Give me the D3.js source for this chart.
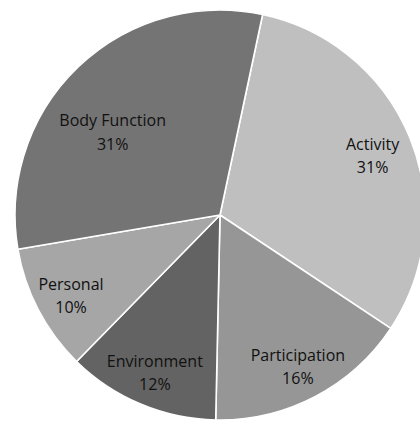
<!DOCTYPE html>
<html>
<head>
<meta charset="utf-8">
<script src="https://cdn.jsdelivr.net/npm/d3@7"></script>
<style>
    body { margin: 0; background: #fff; }
    svg { display: block; }
</style>
</head>
<body>
<div id="chart"></div>
<script>
// Data (percent share per ICF domain)
const categories = ["Activity", "Participation", "Environment", "Personal", "Body Function"];
const shares = [31, 16, 12, 10, 31];
const sliceColors = ["#bfbfbf", "#969696", "#636363", "#a6a6a6", "#747474"];

const width = 420, height = 426;
const cx = 220, cy = 215, radius = 205;

const svg = d3.select("#chart")
    .append("svg")
    .attr("width", width)
    .attr("height", height);

const g = svg.append("g")
    .attr("transform", `translate(${cx}, ${cy})`);

const data = categories.map((c, i) => ({ name: c, value: shares[i] }));

// Excel draws the first slice starting a little past 12 o'clock
const pie = d3.pie()
    .value(d => d.value)
    .sort(null)
    .startAngle(12 * Math.PI / 180)
    .endAngle(12 * Math.PI / 180 + 2 * Math.PI);

const arc = d3.arc().innerRadius(0).outerRadius(radius);
const labelArc = d3.arc().innerRadius(radius * 0.82).outerRadius(radius * 0.82);

// small nudges so labels sit where Excel's best fit put them
const labelNudge = { "Body Function": [9, 36], "Activity": [-3, 2] };

const color = d3.scaleOrdinal().domain(categories).range(sliceColors);

const arcs = pie(data);

g.selectAll(".slice")
    .data(arcs)
    .enter()
    .append("path")
    .attr("class", "slice")
    .attr("d", arc)
    .attr("fill", d => color(d.data.name))
    .attr("stroke", "#fff")
    .attr("stroke-width", 1.6)
    .attr("stroke-linejoin", "round");

const labels = g.selectAll(".label")
    .data(arcs)
    .enter()
    .append("text")
    .attr("class", "label")
    .attr("transform", d => {
        const [x, y] = labelArc.centroid(d);
        const n = labelNudge[d.data.name] || [0, 0];
        return `translate(${x + n[0]}, ${y + n[1]})`;
    })
    .attr("text-anchor", "middle")
    .style("font-family", "'Open Sans', sans-serif")
    .style("font-size", "16px")
    .style("fill", "#111");

labels.append("tspan")
    .attr("x", 0)
    .attr("dy", "-0.2em")
    .text(d => d.data.name);

labels.append("tspan")
    .attr("x", 0)
    .attr("dy", "1.45em")
    .text(d => `${d.data.value}%`);
</script>
</body>
</html>
